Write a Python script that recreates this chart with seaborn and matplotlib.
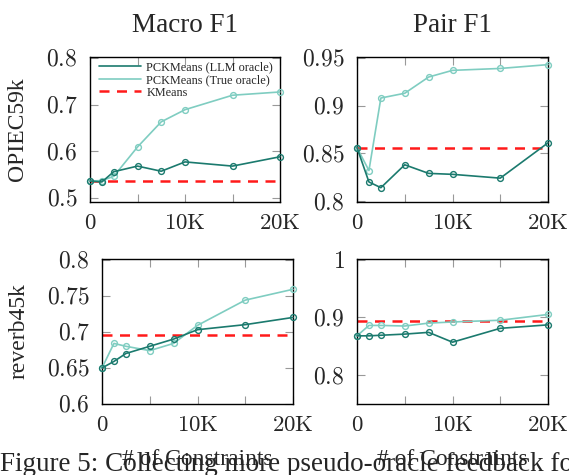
import numpy as np
import pandas as pd
import seaborn as sns
import matplotlib
matplotlib.use("Agg")
import matplotlib.pyplot as plt
from matplotlib.ticker import FuncFormatter, FixedLocator
from matplotlib.lines import Line2D

# ---- data ----
constraints = [0, 1250, 2500, 5000, 7500, 10000, 15000, 20000]
datasets = ["OPIEC59k", "reverb45k"]
metrics = ["Macro F1", "Pair F1"]

opiec_macro_llm = [0.536, 0.534, 0.556, 0.568, 0.557, 0.577, 0.568, 0.588]
opiec_macro_true = [0.536, 0.537, 0.546, 0.609, 0.663, 0.689, 0.720, 0.727]
opiec_macro_kmeans = 0.536

opiec_pair_llm = [0.856, 0.820, 0.814, 0.838, 0.829, 0.828, 0.824, 0.861]
opiec_pair_true = [0.856, 0.832, 0.908, 0.913, 0.930, 0.937, 0.939, 0.943]
opiec_pair_kmeans = 0.856

reverb_macro_llm = [0.650, 0.659, 0.670, 0.680, 0.690, 0.703, 0.710, 0.720]
reverb_macro_true = [0.650, 0.684, 0.680, 0.674, 0.684, 0.709, 0.744, 0.759]
reverb_macro_kmeans = 0.696

reverb_pair_llm = [0.868, 0.868, 0.869, 0.871, 0.874, 0.857, 0.881, 0.887]
reverb_pair_true = [0.868, 0.886, 0.886, 0.885, 0.890, 0.892, 0.895, 0.905]
reverb_pair_kmeans = 0.893

series_names = ["PCKMeans (LLM oracle)", "PCKMeans (True oracle)", "KMeans"]
x_ticks = [0, 5000, 10000, 15000, 20000]
x_tick_labels = {0: r"$0$", 10000: r"$10\mathrm{K}$", 20000: r"$20\mathrm{K}$"}
xlabel_text = "# of Constraints"
caption = "Figure 5: Collecting more pseudo-oracle feedback for"

panels = [
    (opiec_macro_llm, opiec_macro_true, opiec_macro_kmeans, (0.491, 0.802), [0.5, 0.6, 0.7, 0.8]),
    (opiec_pair_llm, opiec_pair_true, opiec_pair_kmeans, (0.799, 0.951), [0.8, 0.85, 0.9, 0.95]),
    (reverb_macro_llm, reverb_macro_true, reverb_macro_kmeans, (0.600, 0.801), [0.6, 0.65, 0.7, 0.75, 0.8]),
    (reverb_pair_llm, reverb_pair_true, reverb_pair_kmeans, (0.750, 1.001), [0.8, 0.9, 1.0]),
]

# ---- style ----
sns.set_theme(style="ticks")
plt.rcParams["font.family"] = ["Liberation Serif", "DejaVu Serif"]
plt.rcParams["mathtext.fontset"] = "cm"

dark = "#1b7a6e"
light = "#7fcdc1"
red = "#ff1a1a"

W, H = 569, 475
fig = plt.figure(figsize=(W / 100, H / 100), dpi=100)
positions = [
    [90 / W, (H - 202) / H, 190 / W, 145 / H],
    [357 / W, (H - 202) / H, 191 / W, 145 / H],
    [102 / W, (H - 404) / H, 191 / W, 145 / H],
    [357 / W, (H - 404) / H, 191 / W, 145 / H],
]


def yfmt(v, pos):
    s = ("%.2f" % v).rstrip("0").rstrip(".")
    return "$" + s + "$"


axes = []
for i, (llm, true, km, ylim, yt) in enumerate(panels):
    ax = fig.add_axes(positions[i])
    axes.append(ax)
    df = pd.DataFrame({"x": constraints, "llm": llm, "true": true})
    sns.lineplot(data=df, x="x", y="true", ax=ax, color=light, lw=1.2,
                 marker="o", markersize=4.2, markerfacecolor="none",
                 markeredgecolor=light, markeredgewidth=1.0, clip_on=False,
                 zorder=3)
    sns.lineplot(data=df, x="x", y="llm", ax=ax, color=dark, lw=1.2,
                 marker="o", markersize=4.2, markerfacecolor="none",
                 markeredgecolor=dark, markeredgewidth=1.0, clip_on=False,
                 zorder=4)
    ax.axhline(km, color=red, lw=1.8, ls=(0, (4, 3)), xmin=0, xmax=0.985, zorder=2)
    ax.set_xlim(0, 20000)
    ax.set_ylim(*ylim)
    ax.xaxis.set_major_locator(FixedLocator(x_ticks))
    ax.xaxis.set_major_formatter(FuncFormatter(lambda v, p: x_tick_labels.get(int(round(v)), "")))
    ax.yaxis.set_major_locator(FixedLocator(yt))
    ax.yaxis.set_major_formatter(FuncFormatter(yfmt))
    ax.tick_params(direction="in", length=6, width=0.8, color="#999999",
                   top=True, right=True, pad=9)
    ax.tick_params(axis="y", labelsize=17)
    ax.tick_params(axis="x", labelsize=16.5, pad=8)
    for sp in ax.spines.values():
        sp.set_linewidth(1.0)
        sp.set_color("black")
    ax.set_xlabel("")
    ax.set_ylabel("")

handles = [
    Line2D([], [], color=dark, lw=1.2),
    Line2D([], [], color=light, lw=1.2),
    Line2D([], [], color=red, lw=1.8, ls=(0, (4, 3))),
]
axes[0].legend(handles, series_names, loc="upper left", frameon=False,
               fontsize=8.8, handlelength=3.5, handletextpad=0.4,
               labelspacing=0.05, borderaxespad=0.0, borderpad=0.0,
               bbox_to_anchor=(0.045, 0.97))

axes[0].set_title(metrics[0], fontsize=19.5, pad=18)
axes[1].set_title(metrics[1], fontsize=19.5, pad=18)
axes[0].set_ylabel(datasets[0], fontsize=17)
axes[2].set_ylabel(datasets[1], fontsize=17)
axes[0].yaxis.set_label_coords(-0.326, 0.5)
axes[2].yaxis.set_label_coords(-0.377, 0.5)
for ax in axes[2:]:
    ax.set_xlabel(xlabel_text, fontsize=17)
    ax.xaxis.set_label_coords(0.5, -0.31)

fig.text(0, H - 471, caption, fontsize=19.5, ha="left", va="baseline",
         transform=None)

fig.savefig("out.png", dpi=100)
